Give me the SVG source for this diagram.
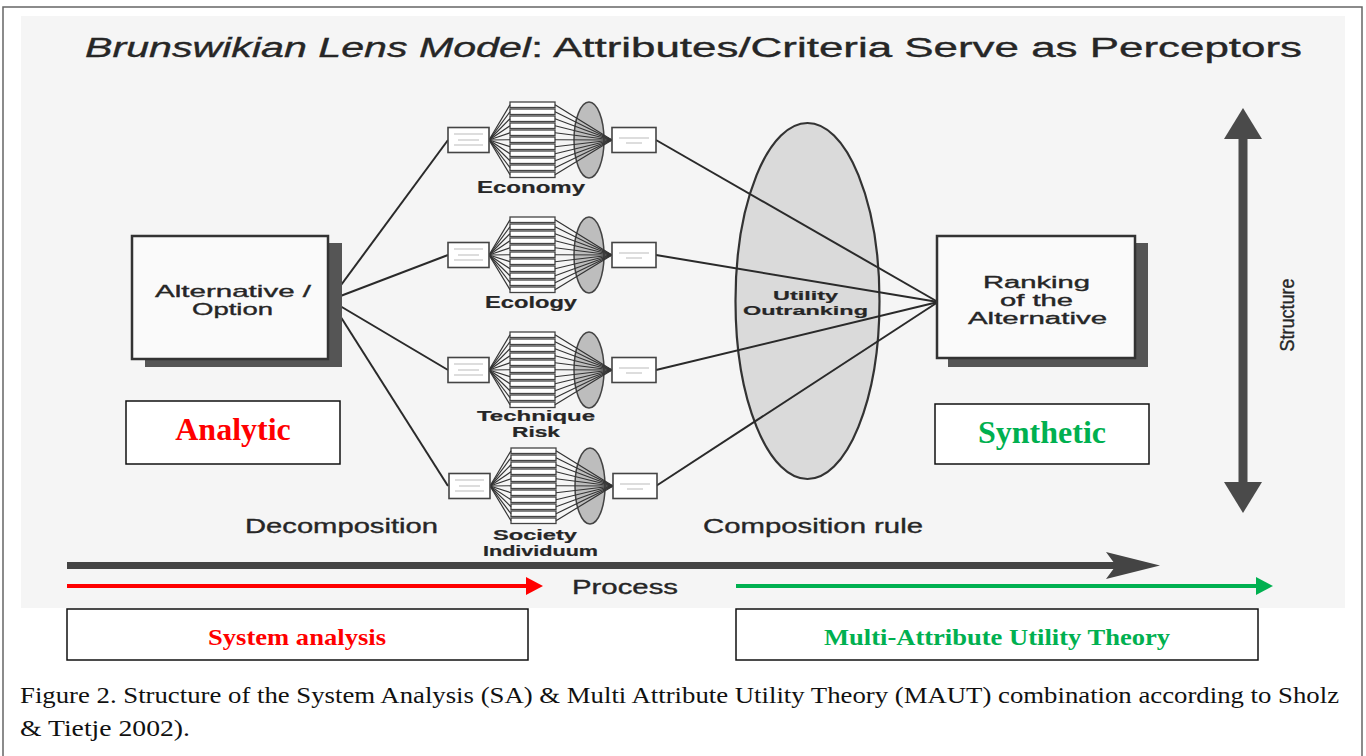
<svg xmlns="http://www.w3.org/2000/svg" xmlns:xlink="http://www.w3.org/1999/xlink" width="1366" height="756" viewBox="0 0 1366 756">
<style>
.scan{font-family:"Liberation Sans",Arial,sans-serif;fill:#262626;stroke:#262626;stroke-width:0.35}
.bold{font-weight:bold;stroke-width:0.2}
.times{font-family:"Liberation Serif","Times New Roman",serif}
.red{fill:#ff0000;font-weight:bold}
.green{fill:#00b050;font-weight:bold}
.box{fill:#fafafa;stroke:#333;stroke-width:2.5}
.shadow{fill:#555}
.lab{fill:#fff;stroke:#111;stroke-width:1.5}
.conn{stroke:#2a2a2a;stroke-width:2;fill:none}
.fan{stroke:#333;stroke-width:1.2}
.small{fill:#fff;stroke:#444;stroke-width:1.6}
.bar{fill:#fff;stroke:#444;stroke-width:1.3}
.faint{stroke:#aaa;stroke-width:0.8}
</style>
<defs>
<g id="cluster">
  <ellipse cx="589" cy="0" rx="15" ry="38" fill="#bdbdbd" stroke="#444" stroke-width="1.5"/>
  <rect class="bar" x="510" y="-38" width="45" height="5.5"/>
  <rect class="bar" x="510" y="-31" width="45" height="5.5"/>
  <rect class="bar" x="510" y="-24" width="45" height="5.5"/>
  <rect class="bar" x="510" y="-17" width="45" height="5.5"/>
  <rect class="bar" x="510" y="-10" width="45" height="5.5"/>
  <rect class="bar" x="510" y="-3" width="45" height="5.5"/>
  <rect class="bar" x="510" y="4" width="45" height="5.5"/>
  <rect class="bar" x="510" y="11" width="45" height="5.5"/>
  <rect class="bar" x="510" y="18" width="45" height="5.5"/>
  <rect class="bar" x="510" y="25" width="45" height="5.5"/>
  <rect class="bar" x="510" y="32" width="45" height="5.5"/>
  <g class="fan">
    <line x1="489" y1="0" x2="510" y2="-35.25"/><line x1="489" y1="0" x2="510" y2="-28.25"/>
    <line x1="489" y1="0" x2="510" y2="-21.25"/><line x1="489" y1="0" x2="510" y2="-14.25"/>
    <line x1="489" y1="0" x2="510" y2="-7.25"/><line x1="489" y1="0" x2="510" y2="-0.25"/>
    <line x1="489" y1="0" x2="510" y2="6.75"/><line x1="489" y1="0" x2="510" y2="13.75"/>
    <line x1="489" y1="0" x2="510" y2="20.75"/><line x1="489" y1="0" x2="510" y2="27.75"/>
    <line x1="489" y1="0" x2="510" y2="34.75"/>
    <line x1="555" y1="-35.25" x2="612" y2="0"/><line x1="555" y1="-28.25" x2="612" y2="0"/>
    <line x1="555" y1="-21.25" x2="612" y2="0"/><line x1="555" y1="-14.25" x2="612" y2="0"/>
    <line x1="555" y1="-7.25" x2="612" y2="0"/><line x1="555" y1="-0.25" x2="612" y2="0"/>
    <line x1="555" y1="6.75" x2="612" y2="0"/><line x1="555" y1="13.75" x2="612" y2="0"/>
    <line x1="555" y1="20.75" x2="612" y2="0"/><line x1="555" y1="27.75" x2="612" y2="0"/>
    <line x1="555" y1="34.75" x2="612" y2="0"/>
  </g>
  <rect class="small" x="448" y="-12.5" width="41" height="25"/>
  <line class="faint" x1="454" y1="-6" x2="483" y2="-6"/>
  <line class="faint" x1="458" y1="0" x2="479" y2="0"/>
  <line class="faint" x1="454" y1="5" x2="483" y2="5"/>
  <rect class="small" x="612" y="-12.5" width="44" height="25"/>
  <line class="faint" x1="619" y1="-2" x2="649" y2="-2"/>
  <line class="faint" x1="626" y1="3" x2="642" y2="3"/>
</g>
</defs>

<!-- frame and scanned picture background -->
<rect x="0" y="0" width="1366" height="756" fill="#ffffff"/>
<path d="M3,760 V7 H1362 V760" fill="none" stroke="#666" stroke-width="1.5"/>
<rect x="21" y="16" width="1324" height="592" fill="#f5f5f5"/>

<!-- title -->
<g id="title" class="scan">
  <text x="85" y="57" font-size="27" font-style="italic" textLength="446" lengthAdjust="spacingAndGlyphs">Brunswikian Lens Model</text>
  <text x="531" y="57" font-size="27" textLength="771" lengthAdjust="spacingAndGlyphs">: Attributes/Criteria Serve as Perceptors</text>
</g>

<!-- big lens ellipse -->
<g id="lens">
  <ellipse cx="807.5" cy="301" rx="72" ry="178" fill="#dadada" stroke="#333" stroke-width="2.2"/>
</g>

<!-- connectors -->
<g id="connectors" class="conn">
  <line x1="330" y1="300" x2="448" y2="140"/>
  <line x1="330" y1="300" x2="448" y2="255"/>
  <line x1="330" y1="300" x2="448" y2="370"/>
  <line x1="330" y1="300" x2="448" y2="486"/>
  <line x1="656" y1="140" x2="938" y2="302"/>
  <line x1="656" y1="255" x2="938" y2="302"/>
  <line x1="656" y1="370" x2="938" y2="302"/>
  <line x1="656" y1="486" x2="938" y2="302"/>
</g>

<g id="lens-label" class="scan bold">
  <text x="773" y="300" font-size="13" textLength="65" lengthAdjust="spacingAndGlyphs">Utility</text>
  <text x="743" y="315" font-size="13" textLength="125" lengthAdjust="spacingAndGlyphs">Outranking</text>
</g>

<!-- Alternative / Option -->
<g id="alternative">
  <rect class="shadow" x="145" y="243" width="197" height="124"/>
  <rect class="box" x="132" y="236" width="196" height="123"/>
  <g class="scan">
    <text x="155" y="297" font-size="17" textLength="156" lengthAdjust="spacingAndGlyphs">Alternative /</text>
    <text x="192" y="315" font-size="17" textLength="81" lengthAdjust="spacingAndGlyphs">Option</text>
  </g>
</g>

<!-- Ranking of the Alternative -->
<g id="ranking">
  <rect class="shadow" x="948" y="243" width="200" height="124"/>
  <rect class="box" x="937" y="236" width="198" height="122"/>
  <g class="scan">
    <text x="983" y="288" font-size="16" textLength="107" lengthAdjust="spacingAndGlyphs">Ranking</text>
    <text x="1000" y="306" font-size="16" textLength="73" lengthAdjust="spacingAndGlyphs">of the</text>
    <text x="968" y="324" font-size="16" textLength="139" lengthAdjust="spacingAndGlyphs">Alternative</text>
  </g>
</g>

<!-- clusters -->
<g id="economy">
  <use xlink:href="#cluster" href="#cluster" transform="translate(0,140)"/>
  <text class="scan bold" x="477" y="193" font-size="16" textLength="108" lengthAdjust="spacingAndGlyphs">Economy</text>
</g>
<g id="ecology">
  <use xlink:href="#cluster" href="#cluster" transform="translate(0,255)"/>
  <text class="scan bold" x="485" y="308" font-size="16" textLength="92" lengthAdjust="spacingAndGlyphs">Ecology</text>
</g>
<g id="technique-risk">
  <use xlink:href="#cluster" href="#cluster" transform="translate(0,370)"/>
  <text class="scan bold" x="477" y="421" font-size="14" textLength="118" lengthAdjust="spacingAndGlyphs">Technique</text>
  <text class="scan bold" x="512" y="437" font-size="14" textLength="48" lengthAdjust="spacingAndGlyphs">Risk</text>
</g>
<g id="society-individuum">
  <use xlink:href="#cluster" href="#cluster" transform="translate(1,486)"/>
  <text class="scan bold" x="493" y="540" font-size="14" textLength="84" lengthAdjust="spacingAndGlyphs">Society</text>
  <text class="scan bold" x="483" y="556" font-size="14" textLength="115" lengthAdjust="spacingAndGlyphs">Individuum</text>
</g>

<!-- Analytic / Synthetic -->
<g id="analytic">
  <rect class="lab" x="126" y="401" width="214" height="63"/>
  <text class="times red" x="233" y="440" font-size="32" text-anchor="middle">Analytic</text>
</g>
<g id="synthetic">
  <rect class="lab" x="935" y="404" width="214" height="60"/>
  <text class="times green" x="1042" y="443" font-size="32" text-anchor="middle">Synthetic</text>
</g>

<!-- structure arrow -->
<g id="structure">
  <rect x="1238.5" y="132" width="9" height="357" fill="#4a4a4a"/>
  <polygon points="1243,108 1262,139 1224,139" fill="#4a4a4a"/>
  <polygon points="1243,513 1262,482 1224,482" fill="#4a4a4a"/>
  <text class="scan" transform="translate(1294,315) rotate(-90)" x="0" y="0" font-size="20" text-anchor="middle" textLength="73" lengthAdjust="spacingAndGlyphs">Structure</text>
</g>

<!-- bottom labels -->
<g id="phase-labels" class="scan">
  <text x="245" y="533" font-size="20" textLength="193" lengthAdjust="spacingAndGlyphs">Decomposition</text>
  <text x="703" y="533" font-size="20" textLength="220" lengthAdjust="spacingAndGlyphs">Composition rule</text>
</g>

<!-- process arrow -->
<g id="process">
  <rect x="67" y="562" width="1050" height="7" fill="#444"/>
  <polygon points="1106,552 1160,565.5 1106,579 1116,565.5" fill="#444"/>
  <text class="scan" x="572" y="594" font-size="20" textLength="106" lengthAdjust="spacingAndGlyphs">Process</text>
</g>

<!-- red and green arrows -->
<g id="sa-arrow">
  <line x1="67" y1="586" x2="528" y2="586" stroke="#ff0000" stroke-width="4"/>
  <polygon points="526,577 543,586 526,595" fill="#ff0000"/>
</g>
<g id="maut-arrow">
  <line x1="736" y1="586" x2="1258" y2="586" stroke="#00b050" stroke-width="4"/>
  <polygon points="1256,577 1273,586 1256,595" fill="#00b050"/>
</g>

<g id="system-analysis">
  <rect class="lab" x="67" y="609" width="461" height="51"/>
  <text class="times red" x="208" y="645" font-size="24" textLength="178" lengthAdjust="spacingAndGlyphs">System analysis</text>
</g>
<g id="maut">
  <rect class="lab" x="736" y="609" width="522" height="51"/>
  <text class="times green" x="824" y="645" font-size="24" textLength="346" lengthAdjust="spacingAndGlyphs">Multi-Attribute Utility Theory</text>
</g>

<!-- caption -->
<g id="caption" class="times" fill="#111">
  <text x="20" y="703" font-size="23" textLength="1319" lengthAdjust="spacingAndGlyphs">Figure 2. Structure of the System Analysis (SA) &amp; Multi Attribute Utility Theory (MAUT) combination according to Sholz</text>
  <text x="20" y="736" font-size="23" textLength="170" lengthAdjust="spacingAndGlyphs">&amp; Tietje 2002).</text>
</g>
</svg>
